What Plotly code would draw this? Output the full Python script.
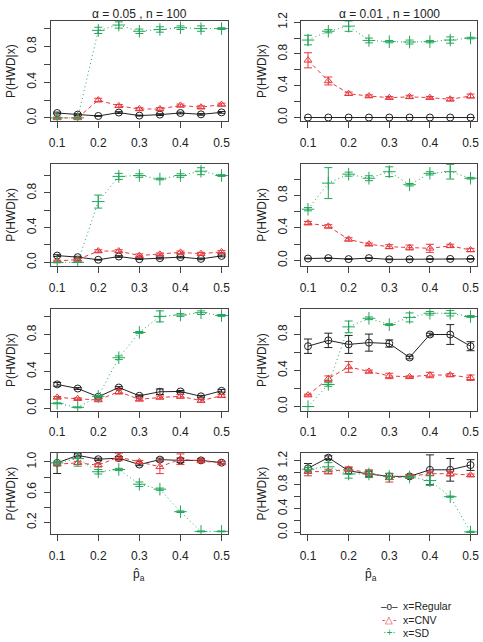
import plotly.graph_objects as go
from plotly.subplots import make_subplots

# ---------------- data ----------------
pa = [0.1, 0.15, 0.2, 0.25, 0.3, 0.35, 0.4, 0.45, 0.5]
x_ticks = [0.1, 0.2, 0.3, 0.4, 0.5]
x_tick_labels = ["0.1", "0.2", "0.3", "0.4", "0.5"]
col_titles = ["\u03b1 = 0.05 , n = 100", "\u03b1 = 0.01 , n = 1000"]
series_names = ["x=Regular", "x=CNV", "x=SD"]
legend_glyphs = ["\u2013o\u2013", "-\u25b3-", "\u00b7+\u00b7"]

# row 1 left
p1_reg = [0.055, 0.037, 0.022, 0.06, 0.026, 0.037, 0.055, 0.04, 0.062]
p1_reg_err = [0.01, 0.01, 0.005, 0.01, 0.005, 0.01, 0.01, 0.01, 0.01]
p1_cnv = [0.0, 0.0, 0.2, 0.135, 0.1, 0.1, 0.14, 0.12, 0.15]
p1_cnv_err = [0.01, 0.01, 0.02, 0.015, 0.015, 0.015, 0.015, 0.015, 0.015]
p1_sd = [0.0, 0.0, 0.98, 1.04, 0.97, 0.99, 1.01, 1.0, 1.0]
p1_sd_err = [0.0, 0.0, 0.035, 0.035, 0.025, 0.03, 0.02, 0.03, 0.01]

# row 1 right
p2_reg = [0.0, 0.0, 0.0, 0.0, 0.0, 0.0, 0.0, 0.0, 0.0]
p2_reg_err = [0.0, 0.0, 0.0, 0.0, 0.0, 0.0, 0.0, 0.0, 0.0]
p2_cnv = [0.72, 0.46, 0.3, 0.27, 0.25, 0.26, 0.25, 0.23, 0.27]
p2_cnv_err = [0.095, 0.05, 0.02, 0.015, 0.015, 0.02, 0.015, 0.02, 0.025]
p2_sd = [0.975, 1.086, 1.15, 0.97, 0.955, 0.95, 0.955, 0.975, 1.0]
p2_sd_err = [0.06, 0.02, 0.065, 0.03, 0.015, 0.025, 0.015, 0.04, 0.01]

# row 2 left
p3_reg = [0.078, 0.06, 0.03, 0.067, 0.037, 0.048, 0.06, 0.04, 0.074]
p3_reg_err = [0.01, 0.01, 0.005, 0.01, 0.005, 0.01, 0.01, 0.01, 0.01]
p3_cnv = [0.015, 0.033, 0.13, 0.13, 0.078, 0.093, 0.115, 0.1, 0.12]
p3_cnv_err = [0.01, 0.01, 0.015, 0.015, 0.02, 0.015, 0.015, 0.015, 0.015]
p3_sd = [0.0, 0.0, 0.7, 0.99, 1.0, 0.96, 1.0, 1.05, 1.0]
p3_sd_err = [0.0, 0.0, 0.075, 0.035, 0.02, 0.01, 0.02, 0.04, 0.01]

# row 2 right
p4_reg = [0.025, 0.03, 0.018, 0.03, 0.015, 0.015, 0.018, 0.02, 0.02]
p4_reg_err = [0.005, 0.005, 0.005, 0.005, 0.005, 0.005, 0.005, 0.005, 0.005]
p4_cnv = [0.46, 0.42, 0.26, 0.2, 0.17, 0.16, 0.15, 0.18, 0.13]
p4_cnv_err = [0.02, 0.02, 0.02, 0.015, 0.025, 0.03, 0.05, 0.02, 0.02]
p4_sd = [0.63, 0.95, 1.06, 1.01, 1.09, 0.93, 1.07, 1.09, 1.01]
p4_sd_err = [0.02, 0.19, 0.025, 0.03, 0.06, 0.015, 0.02, 0.09, 0.01]

# row 3 left
p5_reg = [0.26, 0.215, 0.125, 0.226, 0.136, 0.18, 0.183, 0.13, 0.19]
p5_reg_err = [0.02, 0.01, 0.01, 0.01, 0.01, 0.03, 0.01, 0.01, 0.015]
p5_cnv = [0.118, 0.104, 0.09, 0.18, 0.097, 0.118, 0.13, 0.083, 0.136]
p5_cnv_err = [0.01, 0.01, 0.01, 0.025, 0.015, 0.015, 0.02, 0.015, 0.015]
p5_sd = [0.054, 0.01, 0.13, 0.55, 0.825, 1.0, 1.015, 1.04, 1.01]
p5_sd_err = [0.005, 0.005, 0.01, 0.02, 0.01, 0.06, 0.015, 0.02, 0.01]

# row 3 right
p6_reg = [0.67, 0.735, 0.69, 0.71, 0.70, 0.545, 0.8, 0.8, 0.67]
p6_reg_err = [0.08, 0.08, 0.1, 0.095, 0.04, 0.015, 0.015, 0.11, 0.05]
p6_cnv = [0.127, 0.31, 0.44, 0.39, 0.34, 0.33, 0.35, 0.35, 0.32]
p6_cnv_err = [0.01, 0.03, 0.06, 0.015, 0.03, 0.01, 0.03, 0.015, 0.03]
p6_sd = [0.0, 0.245, 0.885, 0.98, 0.91, 0.99, 1.036, 1.036, 1.0]
p6_sd_err = [0.0, 0.02, 0.065, 0.015, 0.01, 0.05, 0.02, 0.03, 0.01]

# row 4 left
p7_reg = [0.987, 1.086, 1.035, 1.05, 0.965, 1.03, 1.02, 1.02, 0.99]
p7_reg_err = [0.14, 0.02, 0.015, 0.02, 0.015, 0.02, 0.03, 0.02, 0.015]
p7_cnv = [0.97, 0.987, 0.957, 1.065, 1.0, 0.935, 1.035, 1.013, 0.987]
p7_cnv_err = [0.02, 0.02, 0.02, 0.05, 0.02, 0.09, 0.07, 0.02, 0.02]
p7_sd = [0.987, 1.043, 0.87, 0.9, 0.705, 0.64, 0.343, 0.083, 0.083]
p7_sd_err = [0.02, 0.1, 0.03, 0.015, 0.03, 0.015, 0.01, 0.005, 0.005]

# row 4 right
p8_reg = [1.076, 1.254, 1.033, 0.98, 0.94, 0.94, 1.05, 1.05, 1.13]
p8_reg_err = [0.08, 0.03, 0.05, 0.05, 0.05, 0.03, 0.25, 0.19, 0.09]
p8_cnv = [1.02, 1.02, 1.06, 1.0, 0.915, 0.94, 0.985, 0.985, 0.96]
p8_cnv_err = [0.07, 0.04, 0.04, 0.05, 0.07, 0.03, 0.03, 0.04, 0.02]
p8_sd = [1.06, 1.1, 0.98, 0.98, 0.94, 0.93, 0.87, 0.6, 0.01]
p8_sd_err = [0.03, 0.07, 0.07, 0.06, 0.05, 0.02, 0.08, 0.01, 0.01]

panels = [
    (p1_reg, p1_reg_err, p1_cnv, p1_cnv_err, p1_sd, p1_sd_err),
    (p2_reg, p2_reg_err, p2_cnv, p2_cnv_err, p2_sd, p2_sd_err),
    (p3_reg, p3_reg_err, p3_cnv, p3_cnv_err, p3_sd, p3_sd_err),
    (p4_reg, p4_reg_err, p4_cnv, p4_cnv_err, p4_sd, p4_sd_err),
    (p5_reg, p5_reg_err, p5_cnv, p5_cnv_err, p5_sd, p5_sd_err),
    (p6_reg, p6_reg_err, p6_cnv, p6_cnv_err, p6_sd, p6_sd_err),
    (p7_reg, p7_reg_err, p7_cnv, p7_cnv_err, p7_sd, p7_sd_err),
    (p8_reg, p8_reg_err, p8_cnv, p8_cnv_err, p8_sd, p8_sd_err),
]

# ---------------- styling / layout ----------------
W, H = 483, 642
FONT = "Liberation Sans, Arial, sans-serif"
colors = ["#222222", "#E8383D", "#22A65A"]
symbols = ["circle-open", "triangle-up-open", "cross-thin-open"]
dashes = ["solid", "4px,3px", "1px,3px"]


def px_x(v):
    return v / W


def px_y(v):
    return 1 - v / H


col_px = [(49, 228), (302, 479)]
row_px = [(12, 115), (158, 263), (307, 411), (454, 537)]
y_ranges = [
    [-0.04, 1.088], [-0.05, 1.218],
    [-0.045, 1.138], [-0.07, 1.19],
    [-0.03, 1.077], [-0.05, 1.08],
    [0.045, 1.116], [-0.03, 1.33],
]

fig = make_subplots(rows=4, cols=2)

for i, pdata in enumerate(panels):
    r, c = i // 2 + 1, i % 2 + 1
    for k in range(3):
        y = pdata[2 * k]
        e = pdata[2 * k + 1]
        fig.add_trace(
            go.Scatter(
                x=pa, y=y,
                mode="lines+markers",
                name=series_names[k],
                showlegend=False,
                line=dict(color=colors[k], width=1, dash=dashes[k]),
                marker=dict(symbol=symbols[k], size=7 if k < 2 else 9,
                            color=colors[k], line=dict(width=1, color=colors[k])),
                error_y=dict(type="data", array=e, visible=True,
                             color=colors[k], thickness=1, width=4),
            ),
            row=r, col=c,
        )

axis_common = dict(
    showline=True, mirror=True, linecolor="#444444", linewidth=1,
    ticks="outside", ticklen=6, tickcolor="#444444", tickwidth=1,
    showgrid=False, zeroline=False,
    tickfont=dict(family=FONT, size=12, color="#222222"),
)

for i in range(8):
    r, c = i // 2, i % 2
    x0, x1 = col_px[c]
    y0, y1 = row_px[r]
    xa = "xaxis" if i == 0 else f"xaxis{i+1}"
    ya = "yaxis" if i == 0 else f"yaxis{i+1}"
    lo, hi = y_ranges[i]
    start = 0.2 if i == 6 else 0.0
    fig.layout[xa].update(
        domain=[px_x(x0), px_x(x1)], range=[0.084, 0.516],
        tickvals=x_ticks, ticktext=x_tick_labels,
        ticklabelstandoff=4, **axis_common,
    )
    fig.layout[ya].update(
        domain=[px_y(y1), px_y(y0)], range=[lo, hi],
        tickmode="linear", tick0=start, dtick=0.4, tickformat=".1f",
        tickangle=-90, ticklabelstandoff=3,
        minor=dict(ticks="outside", ticklen=6, tickcolor="#444444",
                   tickwidth=1, tick0=start, dtick=0.2, showgrid=False),
        **axis_common,
    )

annotations = []
xlab_x = [138, 372]
for c in range(2):
    x0, x1 = col_px[c]
    annotations.append(dict(
        text=col_titles[c], x=px_x((x0 + x1) / 2), y=px_y(5),
        xref="paper", yref="paper", showarrow=False,
        xanchor="center", yanchor="middle",
        font=dict(family=FONT, size=12, color="#222222")))
    annotations.append(dict(
        text="p\u0302<sub>a</sub>", x=px_x(xlab_x[c]), y=px_y(579),
        xref="paper", yref="paper", showarrow=False,
        xanchor="center", yanchor="middle",
        font=dict(family=FONT, size=12, color="#222222")))
    for r in range(4):
        y0, y1 = row_px[r]
        annotations.append(dict(
            text="P(HWD|x)", x=px_x(9 if c == 0 else 262),
            y=px_y((y0 + y1) / 2),
            xref="paper", yref="paper", showarrow=False, textangle=-90,
            xanchor="center", yanchor="middle",
            font=dict(family=FONT, size=12, color="#222222")))

# legend (bottom right): a glyph column and a label column
glyph_text = "<br>".join(
    f'<span style="color:{colors[k]}">{legend_glyphs[k]}</span>' for k in range(3))
label_text = "<br>".join(series_names)
annotations.append(dict(
    text=glyph_text, x=px_x(400), y=px_y(624),
    xref="paper", yref="paper", showarrow=False, align="center",
    xanchor="right", yanchor="middle", borderpad=0,
    font=dict(family=FONT, size=10, color="#222222")))
annotations.append(dict(
    text=label_text, x=px_x(403), y=px_y(624),
    xref="paper", yref="paper", showarrow=False, align="left",
    xanchor="left", yanchor="middle", borderpad=0,
    font=dict(family=FONT, size=10.5, color="#222222")))

fig.update_layout(
    width=W, height=H,
    margin=dict(l=0, r=0, t=0, b=0),
    paper_bgcolor="white", plot_bgcolor="white",
    annotations=annotations,
    showlegend=False,
)

fig.write_html(
    "out.html",
    config={"displayModeBar": False},
    post_script="document.body.style.margin='0';document.body.style.overflow='hidden';",
)
